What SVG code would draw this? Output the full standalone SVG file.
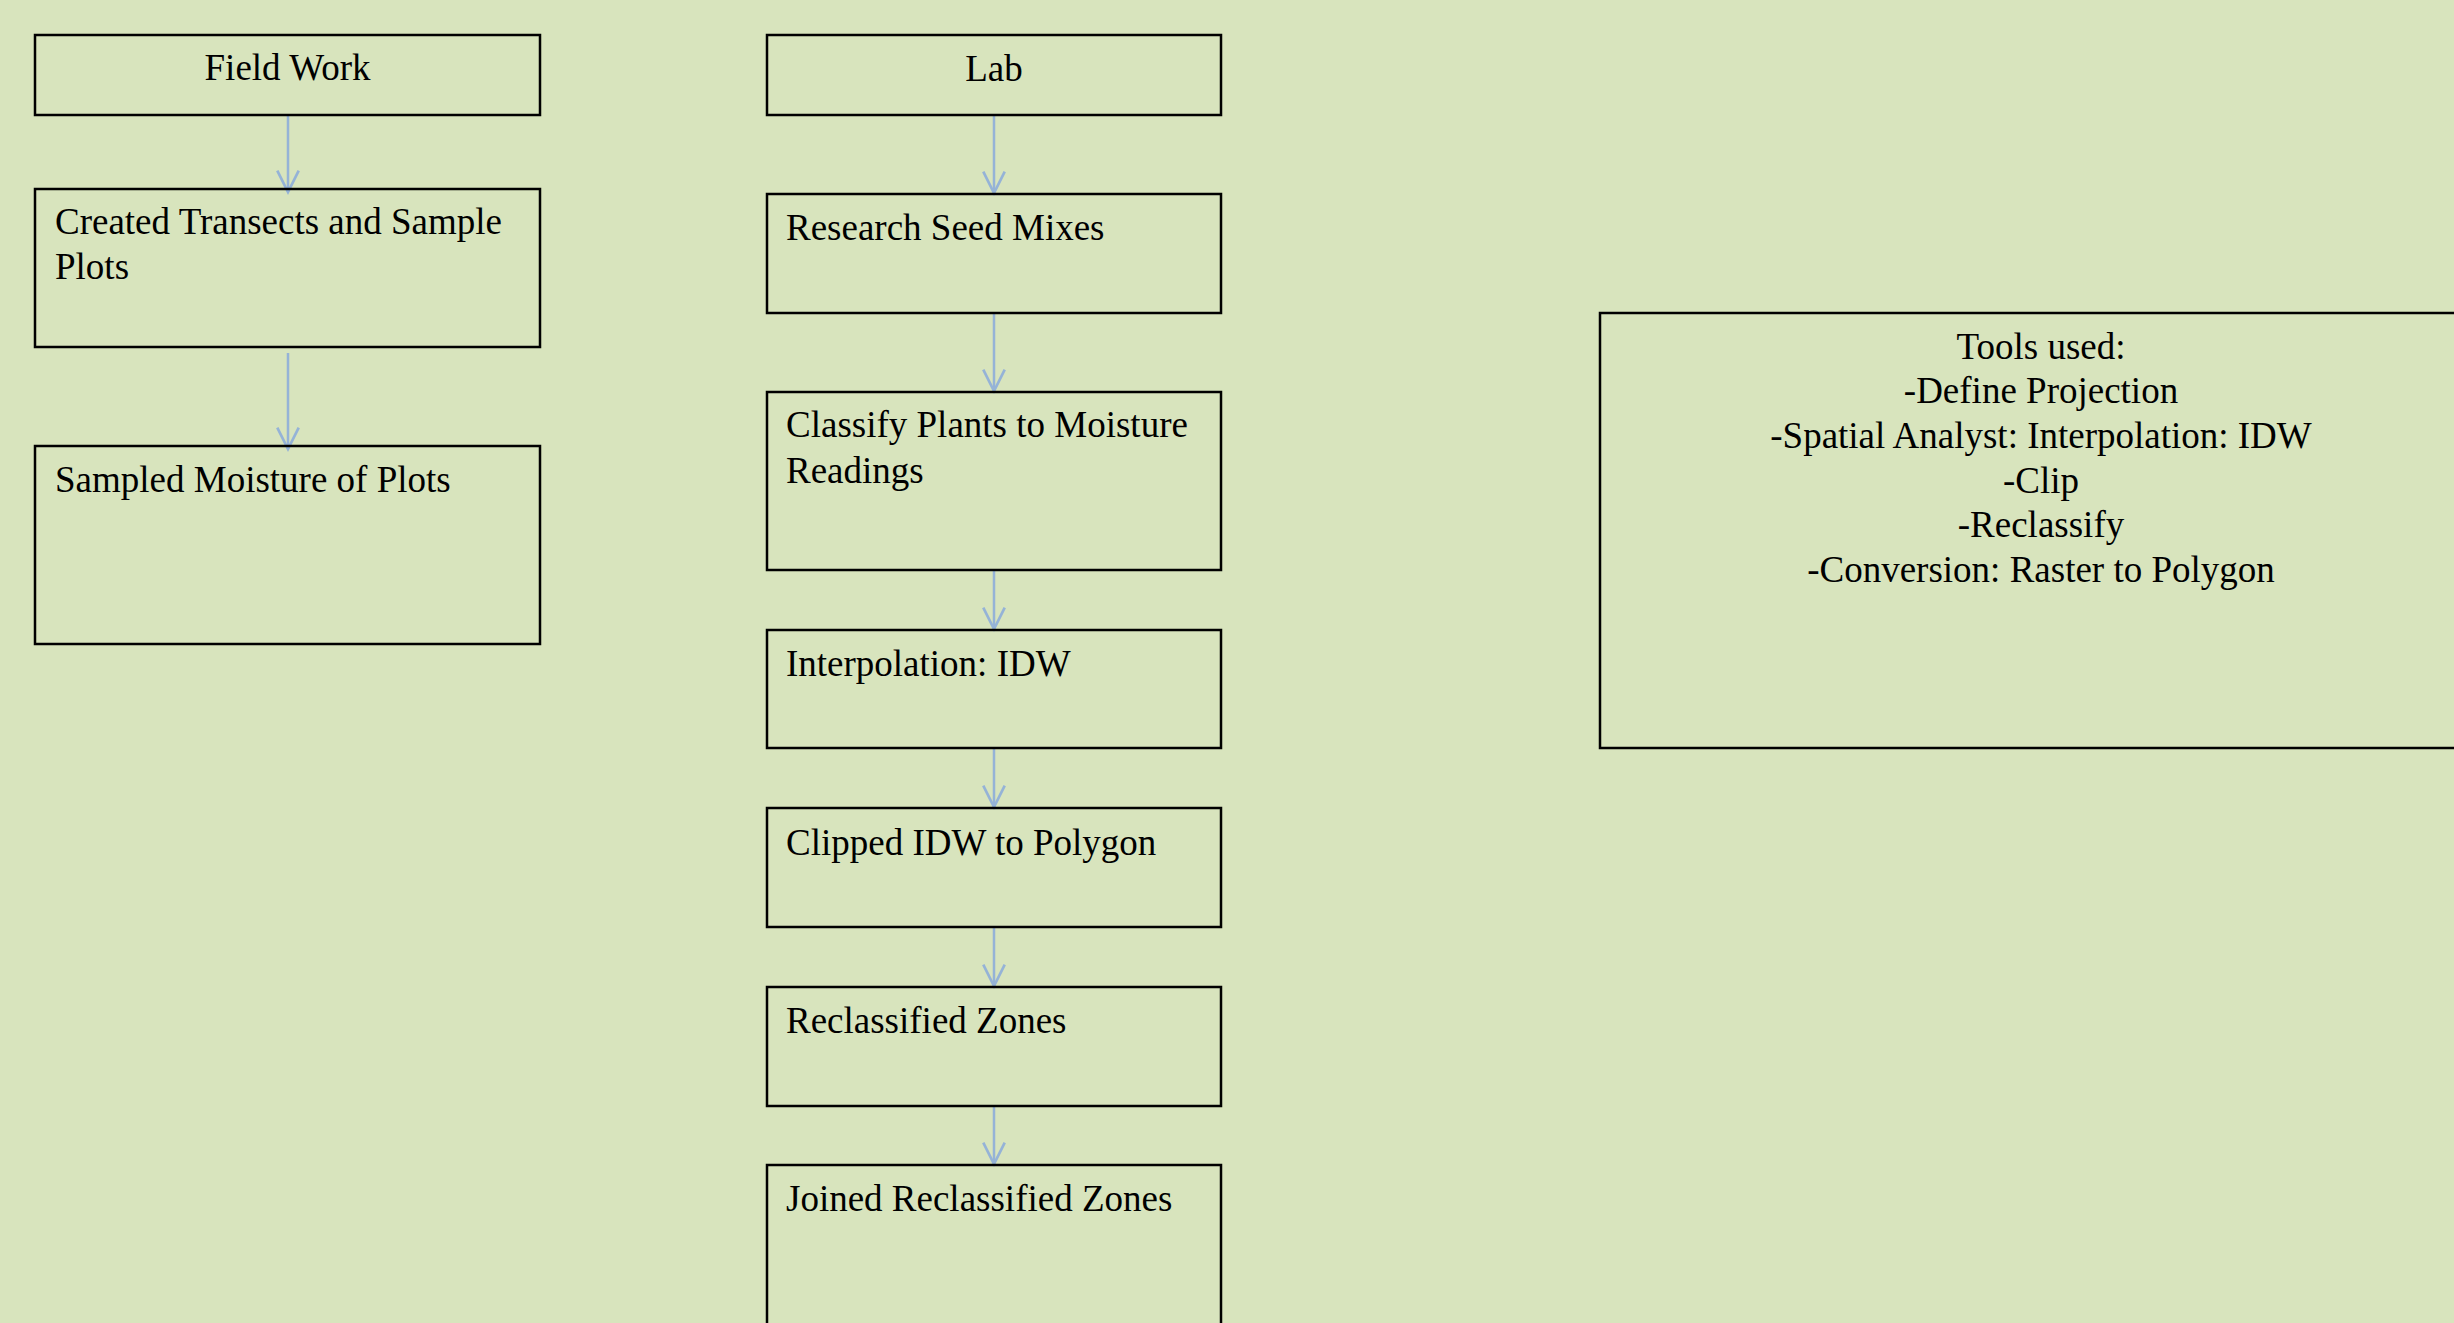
<svg xmlns="http://www.w3.org/2000/svg" width="2454" height="1323" viewBox="0 0 2454 1323">
<style>
.box{fill:none;stroke:#000;stroke-width:2.5}
.t{font-family:"Liberation Serif","Times New Roman",serif;font-size:37px;fill:#000}
.c{text-anchor:middle}
.conn{stroke:#95B3D7;stroke-width:2.5;fill:none;marker-end:url(#arr)}
</style>
<defs>
<marker id="arr" markerUnits="userSpaceOnUse" markerWidth="30" markerHeight="30" viewBox="-24 -14 28 28" refX="0" refY="0" orient="auto" overflow="visible">
<path d="M-20,-10 L0,0 L-20,10" fill="none" stroke="#95B3D7" stroke-width="2.5"/>
</marker>
</defs>
<rect width="2454" height="1323" fill="#D8E4BD"/>
<g id="connectors">
<line class="conn" x1="288" y1="116" x2="288" y2="192"/>
<line class="conn" x1="288" y1="353" x2="288" y2="449"/>
<line class="conn" x1="994" y1="116" x2="994" y2="193"/>
<line class="conn" x1="994" y1="313" x2="994" y2="391"/>
<line class="conn" x1="994" y1="570" x2="994" y2="629"/>
<line class="conn" x1="994" y1="748" x2="994" y2="807"/>
<line class="conn" x1="994" y1="927" x2="994" y2="986"/>
<line class="conn" x1="994" y1="1106" x2="994" y2="1164"/>
</g>
<g id="field-work">
<rect class="box" x="35" y="35" width="505" height="80"/>
<text class="t c" x="287.5" y="80">Field Work</text>
</g>
<g id="created-transects">
<rect class="box" x="35" y="189" width="505" height="158"/>
<text class="t" x="55" y="234">Created Transects and Sample</text>
<text class="t" x="55" y="279">Plots</text>
</g>
<g id="sampled-moisture">
<rect class="box" x="35" y="446" width="505" height="198"/>
<text class="t" x="55" y="492">Sampled Moisture of Plots</text>
</g>
<g id="lab">
<rect class="box" x="767" y="35" width="454" height="80"/>
<text class="t c" x="994" y="81">Lab</text>
</g>
<g id="research-seed">
<rect class="box" x="767" y="194" width="454" height="119"/>
<text class="t" x="786" y="240">Research Seed Mixes</text>
</g>
<g id="classify-plants">
<rect class="box" x="767" y="392" width="454" height="178"/>
<text class="t" x="786" y="437">Classify Plants to Moisture</text>
<text class="t" x="786" y="483">Readings</text>
</g>
<g id="interpolation">
<rect class="box" x="767" y="630" width="454" height="118"/>
<text class="t" x="786" y="676">Interpolation: IDW</text>
</g>
<g id="clipped">
<rect class="box" x="767" y="808" width="454" height="119"/>
<text class="t" x="786" y="855">Clipped IDW to Polygon</text>
</g>
<g id="reclassified">
<rect class="box" x="767" y="987" width="454" height="119"/>
<text class="t" x="786" y="1033">Reclassified Zones</text>
</g>
<g id="joined">
<rect class="box" x="767" y="1165" width="454" height="200"/>
<text class="t" x="786" y="1211">Joined Reclassified Zones</text>
</g>
<g id="tools-used">
<rect class="box" x="1600" y="313" width="900" height="435"/>
<text class="t c" x="2041" y="359">Tools used:</text>
<text class="t c" x="2041" y="403">-Define Projection</text>
<text class="t c" x="2041" y="448">-Spatial Analyst: Interpolation: IDW</text>
<text class="t c" x="2041" y="493">-Clip</text>
<text class="t c" x="2041" y="537">-Reclassify</text>
<text class="t c" x="2041" y="582">-Conversion: Raster to Polygon</text>
</g>
</svg>
